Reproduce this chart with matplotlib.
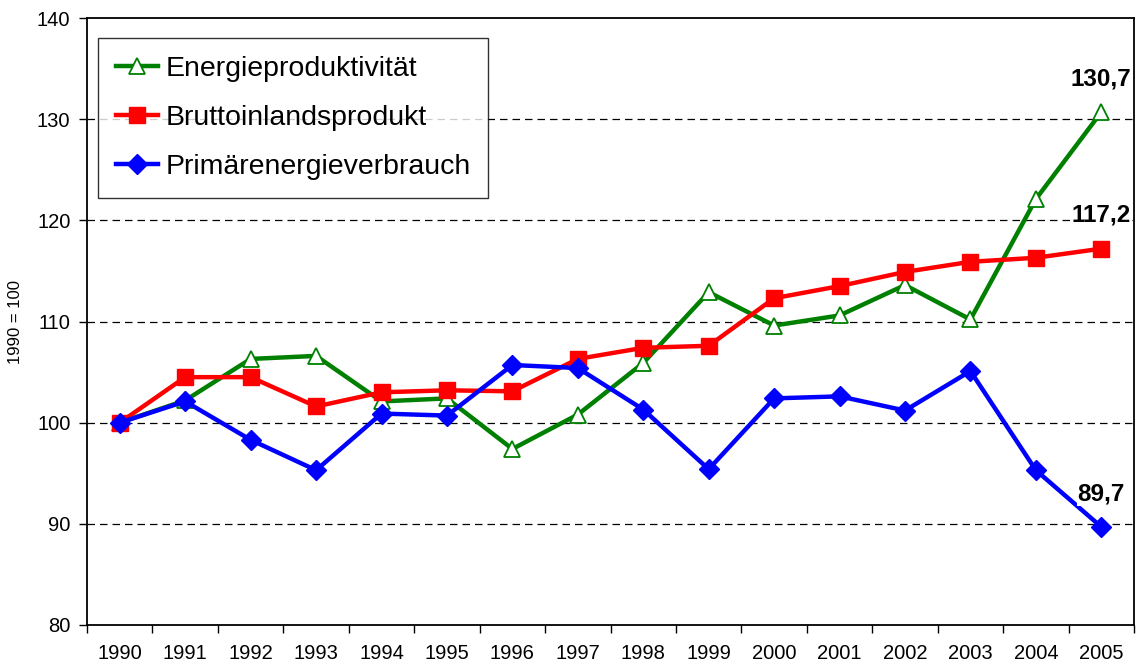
import numpy as np
import matplotlib.pyplot as plt

plt.rcParams['font.family'] = ['Liberation Sans', 'DejaVu Sans']

# Indexwerte, 1990 = 100
jahre = ['1990', '1991', '1992', '1993', '1994', '1995', '1996', '1997',
         '1998', '1999', '2000', '2001', '2002', '2003', '2004', '2005']
energieproduktivitaet = [100.0, 102.2, 106.3, 106.6, 102.1, 102.4, 97.4, 100.8,
                         105.9, 112.9, 109.6, 110.6, 113.6, 110.2, 122.1, 130.7]
bip = [100.0, 104.5, 104.5, 101.6, 103.0, 103.2, 103.1, 106.3,
       107.4, 107.6, 112.3, 113.5, 114.9, 115.9, 116.3, 117.2]
primaerenergie = [100.0, 102.1, 98.3, 95.3, 100.9, 100.7, 105.7, 105.4,
                  101.3, 95.4, 102.4, 102.6, 101.2, 105.1, 95.3, 89.7]

fig = plt.figure(figsize=(11.38, 6.62), dpi=100)
ax = fig.add_axes([0.0765, 0.0559, 0.92, 0.9169])

x = np.arange(len(jahre))

ax.plot(x, energieproduktivitaet, color='#008000', lw=3.2, marker='^', ms=12,
        mfc='white', mec='#008000', mew=1.3, label='Energieproduktivität', zorder=3)
ax.plot(x, bip, color='#ff0000', lw=3.2, marker='s', ms=12,
        mfc='#ff0000', mec='#ff0000', label='Bruttoinlandsprodukt', zorder=4)
ax.plot(x, primaerenergie, color='#0000ff', lw=3.2, marker='D', ms=10,
        mfc='#0000ff', mec='#0000ff', label='Primärenergieverbrauch', zorder=5)

# Endwerte beschriften
for serie in [energieproduktivitaet, bip, primaerenergie]:
    wert = serie[-1]
    ax.annotate(('%.1f' % wert).replace('.', ','), xy=(x[-1], wert),
                xytext=(0, 24), textcoords='offset points', ha='center', va='center',
                fontsize=17.5, fontweight='bold',
                bbox=dict(facecolor='white', edgecolor='none', pad=0.5), zorder=6)

ax.set_xlim(-0.5, len(jahre) - 0.5)
ax.set_ylim(80, 140)
ax.set_yticks(np.arange(80, 141, 10))
ax.tick_params(axis='y', labelsize=14.5, direction='out', length=6, width=1, pad=6)

ax.set_xticks(x)
ax.set_xticklabels(jahre, fontsize=14.5)
ax.set_xticks(np.arange(-0.5, len(jahre)), minor=True)
ax.tick_params(axis='x', which='major', length=0, pad=14)
ax.tick_params(axis='x', which='minor', direction='out', length=6, width=1)

for y in [90, 100, 110, 120, 130]:
    ax.axhline(y, color='black', lw=0.9, ls=(0, (6, 4)), zorder=1)

for s in ax.spines.values():
    s.set_linewidth(1.3)
    s.set_zorder(7)

ax.set_ylabel('1990 = 100', fontsize=12, labelpad=10)

leg = ax.legend(loc='upper left', bbox_to_anchor=(0.0105, 0.967), borderaxespad=0,
                fontsize=20.5, frameon=True, fancybox=False, edgecolor='black',
                handlelength=1.5, handletextpad=0.25, labelspacing=0.82, borderpad=0.62)
leg.get_frame().set_linewidth(1.0)

plt.savefig('out.png', dpi=100)
